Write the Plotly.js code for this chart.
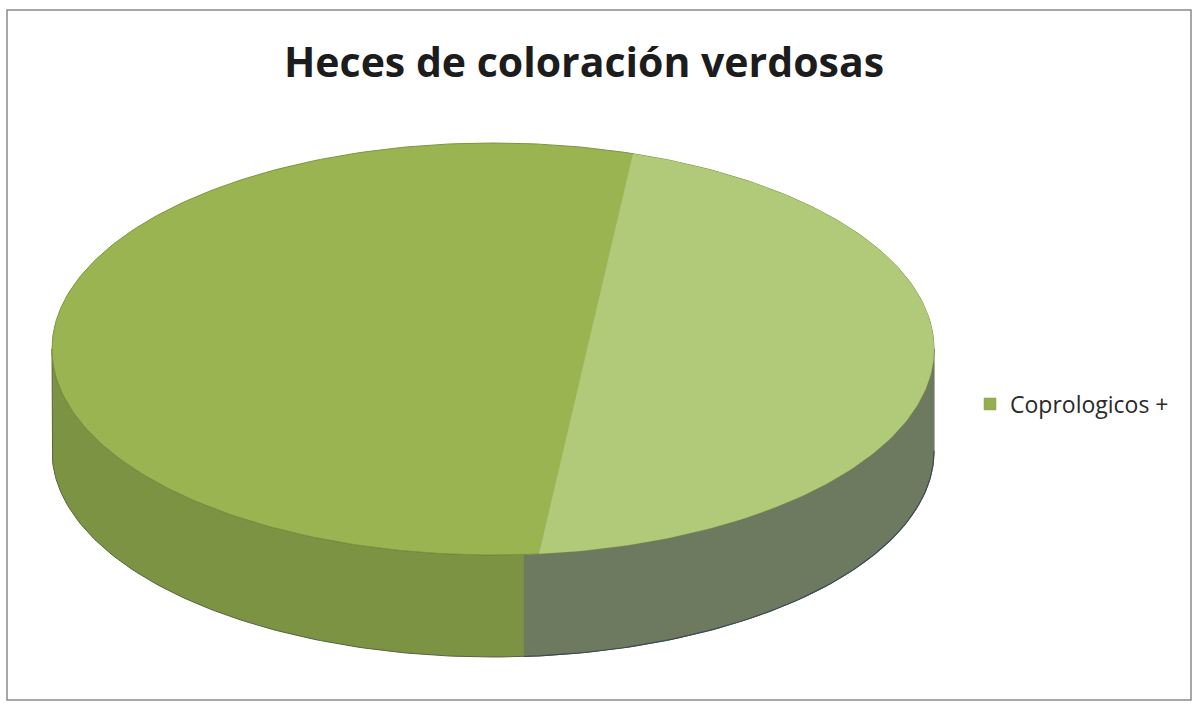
<!DOCTYPE html>
<html>
<head>
<meta charset="utf-8">
<script src="https://cdn.plot.ly/plotly-3.0.1.min.js"></script>
<style>html,body{margin:0;padding:0;background:#fff;}#chart{width:1196px;height:705px;}</style>
</head>
<body>
<div id="chart"></div>
<script>
// ---- data ----
const labels = ['Coprologicos +'];
const values = [100];
const chartTitle = 'Heces de coloración verdosas';

// ---- 3D pie geometry (layout, pixel space) ----
const W = 1196, H = 705;
const cx = 493, cy = 349, rx = 441, ry = 206, depth = 102;
// light-reflection band on the right (angles, clockwise from 12 o'clock)
const lightA0 = 18.5, lightA1 = 174;
const sliceColors = ['#9ab452'];
const total = values.reduce((a, b) => a + b, 0);

function pt(theta, dy) {
  const r = theta * Math.PI / 180;
  return [cx + rx * Math.sin(r), cy - ry * Math.cos(r) + (dy || 0)];
}
function arc(a0, a1, dy) {
  const n = Math.max(2, Math.ceil(Math.abs(a1 - a0)));
  const out = [];
  for (let i = 0; i <= n; i++) out.push(pt(a0 + (a1 - a0) * i / n, dy));
  return out;
}
function sideBand(s, e) {
  const topArc = arc(s, e, 0);
  const poly = topArc.concat(arc(e, s, depth));
  poly.push(topArc[0]);
  return poly;
}
function polyTrace(poly, extra) {
  return Object.assign({
    type: 'scatter', mode: 'lines',
    x: poly.map(p => p[0]), y: poly.map(p => p[1]),
    fill: 'toself', hoverinfo: 'skip', showlegend: false
  }, extra);
}

const traces = [];
let start = 0;
values.forEach((v, i) => {
  const span = v / total * 360;
  const a0 = start, a1 = start + span;
  start = a1;
  const full = span >= 359.9;
  // side wall (front half only: 90..270)
  const s = Math.max(a0, 90), e = Math.min(a1, 270);
  if (e > s) {
    traces.push(polyTrace(sideBand(s, e), {
      fillcolor: '#7d9344', line: {color: '#56643a', width: 1}
    }));
    const hs = s, he = Math.min(e, lightA1 + 2);
    if (he > hs) {
      traces.push(polyTrace(sideBand(hs, he), {
        fillcolor: '#6d7a60', line: {color: 'rgba(0,0,0,0)', width: 0}
      }));
      const edge = arc(hs, he, depth);
      traces.push({type: 'scatter', mode: 'lines', x: edge.map(p => p[0]), y: edge.map(p => p[1]),
        line: {color: '#3f4a55', width: 1.2}, hoverinfo: 'skip', showlegend: false});
    }
  }
  // top face
  let poly = arc(a0, a1, 0);
  if (!full) { poly = [[cx, cy]].concat(poly); poly.push([cx, cy]); }
  traces.push(polyTrace(poly, {
    fillcolor: sliceColors[i],
    line: {color: '#7d9440', width: 1},
    name: labels[i], text: labels[i] + ': ' + v, hoverinfo: 'text',
    showlegend: false
  }));
  // lit segment of the top face
  const ls = Math.max(a0, lightA0), le = Math.min(a1, lightA1);
  if (le > ls) {
    const seg = arc(ls, le, 0);
    seg.push(seg[0]);
    traces.push(polyTrace(seg, {
      fillcolor: '#b1ca79', line: {color: 'rgba(0,0,0,0)', width: 0}
    }));
  }
  // legend entry (square swatch)
  traces.push({
    type: 'scatter', mode: 'markers', x: [null], y: [null],
    name: labels[i], showlegend: true, hoverinfo: 'skip',
    marker: {symbol: 'square', size: 12, color: '#93ae4f', line: {color: '#8aa548', width: 0.5}}
  });
});

const layout = {
  width: W, height: H,
  margin: {l: 0, r: 0, t: 0, b: 0},
  paper_bgcolor: '#ffffff', plot_bgcolor: '#ffffff',
  xaxis: {range: [0, W], visible: false, fixedrange: true},
  yaxis: {range: [H, 0], visible: false, fixedrange: true},
  title: {
    text: '<b>' + chartTitle + '</b>',
    x: 584 / W, xanchor: 'center',
    y: 1 - 63 / H, yanchor: 'middle',
    font: {family: 'Open Sans, Noto Sans, sans-serif', size: 41, color: '#1c1c1c'}
  },
  showlegend: true,
  legend: {
    x: 970 / W, xanchor: 'left',
    y: 1 - 404 / H, yanchor: 'middle',
    font: {family: 'Open Sans, Noto Sans, sans-serif', size: 23, color: '#2a2a2a'},
    bgcolor: 'rgba(0,0,0,0)', itemwidth: 30
  },
  shapes: [{
    type: 'rect', xref: 'paper', yref: 'paper',
    x0: 7 / W, x1: 1191 / W, y0: 1 - 700 / H, y1: 1 - 10 / H,
    line: {color: '#8a8a8a', width: 1.5}
  }]
};

Plotly.newPlot('chart', traces, layout, {displayModeBar: false, staticPlot: true});
</script>
</body>
</html>
